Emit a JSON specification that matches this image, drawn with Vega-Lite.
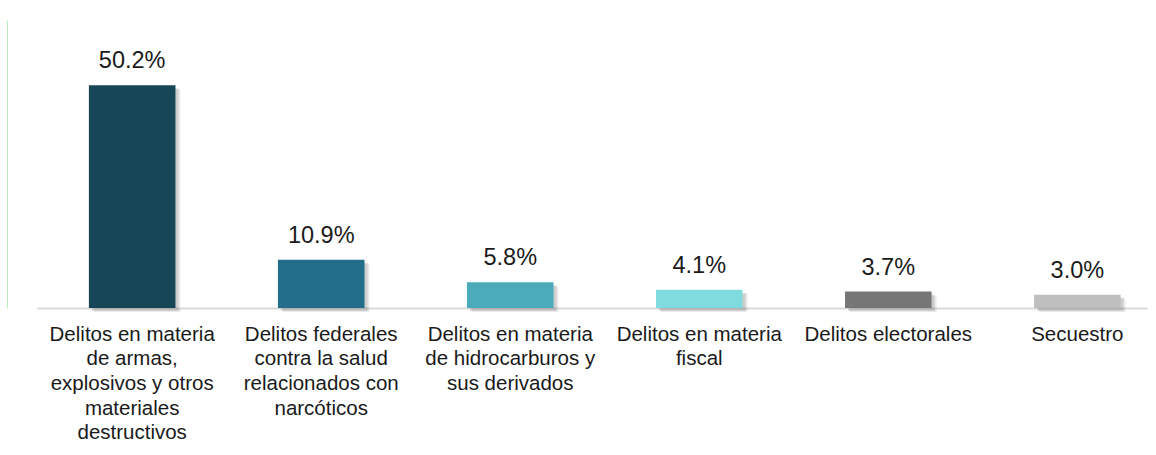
{
  "$schema": "https://vega.github.io/schema/vega-lite/v6.json",
  "width": 1110,
  "height": 288,
  "autosize": {"type": "none"},
  "padding": {"left": 37, "top": 20, "right": 9, "bottom": 147},
  "background": "white",
  "config": {
    "view": {"stroke": null},
    "font": "Liberation Sans"
  },
  "data": {
    "values": [
      {"delito": "Delitos en materia|de armas,|explosivos y otros|materiales|destructivos", "pct": 0.502, "color": "#174657"},
      {"delito": "Delitos federales|contra la salud|relacionados con|narcóticos", "pct": 0.109, "color": "#226d8a"},
      {"delito": "Delitos en materia|de hidrocarburos y|sus derivados", "pct": 0.058, "color": "#4babba"},
      {"delito": "Delitos en materia|fiscal", "pct": 0.041, "color": "#7fdbdd"},
      {"delito": "Delitos electorales", "pct": 0.037, "color": "#767676"},
      {"delito": "Secuestro", "pct": 0.030, "color": "#bfbfbf"}
    ]
  },
  "encoding": {
    "x": {
      "field": "delito",
      "type": "nominal",
      "sort": null,
      "scale": {"paddingInner": 0.542, "paddingOuter": 0.207, "align": 0.663},
      "axis": {
        "title": null,
        "labelAngle": 0,
        "labelExpr": "split(datum.label, '|')",
        "labelFontSize": 20.5,
        "labelLineHeight": 24.7,
        "labelColor": "#1a1a1a",
        "labelPadding": 16,
        "labelLimit": 300,
        "labelOverlap": false,
        "ticks": false,
        "domainColor": "#d9d9d9",
        "domainWidth": 2
      }
    },
    "y": {
      "field": "pct",
      "type": "quantitative",
      "scale": {"domain": [0, 0.649]},
      "axis": {
        "title": null,
        "labels": false,
        "ticks": false,
        "grid": false,
        "offset": 30,
        "domainColor": "#bfe8bf",
        "domainWidth": 1
      }
    }
  },
  "layer": [
    {
      "mark": {"type": "bar", "color": "#000000", "opacity": 0.08, "xOffset": 5, "yOffset": 4}
    },
    {
      "mark": {"type": "bar", "color": "#000000", "opacity": 0.12, "xOffset": 3, "yOffset": 3}
    },
    {
      "mark": {"type": "bar"},
      "encoding": {
        "color": {"field": "color", "type": "nominal", "scale": null}
      }
    },
    {
      "mark": {"type": "text", "fontSize": 23.5, "dy": -17, "baseline": "alphabetic", "color": "#1a1a1a"},
      "encoding": {
        "text": {"field": "pct", "type": "quantitative", "format": ".1%"}
      }
    }
  ]
}
